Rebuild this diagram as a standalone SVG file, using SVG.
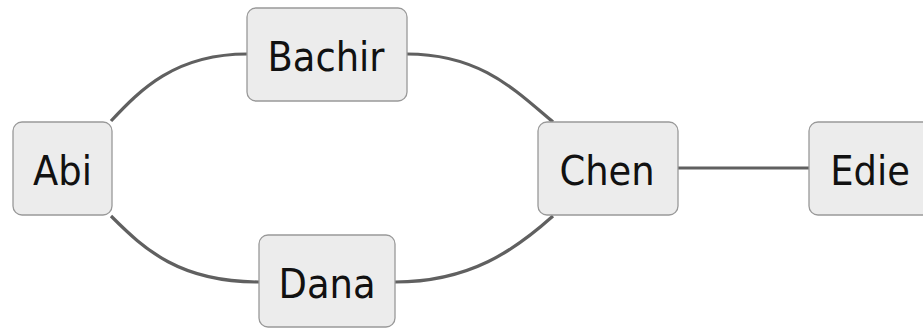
<svg xmlns="http://www.w3.org/2000/svg" width="923" height="329" viewBox="0 0 923 329">
<style>
.node rect{fill:#ececec;stroke:#999;stroke-width:1.3}
.node text{font-family:"DejaVu Sans Condensed","DejaVu Sans",sans-serif;font-size:41px;fill:#111;text-anchor:middle}
.edges path{fill:none;stroke:#606060;stroke-width:3.2}
</style>
<rect width="923" height="329" fill="#fff"/>
<g class="edges">
<path d="M111,121 C140,90 175,54 247,54"/>
<path d="M407,54 C480,54 515,90 553,122"/>
<path d="M111,216 C145,250 180,282 259,282"/>
<path d="M395,282 C470,282 515,250 553,216"/>
<path d="M678,168 L809,168"/>
</g>
<g id="abi" class="node"><rect x="13" y="122" width="99" height="93" rx="9"/><text x="62.5" y="185">Abi</text></g>
<g id="bachir" class="node"><rect x="247" y="8" width="160" height="93" rx="9"/><text x="326" y="71">Bachir</text></g>
<g id="dana" class="node"><rect x="259" y="235" width="136" height="92" rx="9"/><text x="327" y="298">Dana</text></g>
<g id="chen" class="node"><rect x="538" y="122" width="140" height="93" rx="9"/><text x="607" y="185">Chen</text></g>
<g id="edie" class="node"><rect x="809" y="122" width="126" height="93" rx="9"/><text x="870" y="185">Edie</text></g>
</svg>
